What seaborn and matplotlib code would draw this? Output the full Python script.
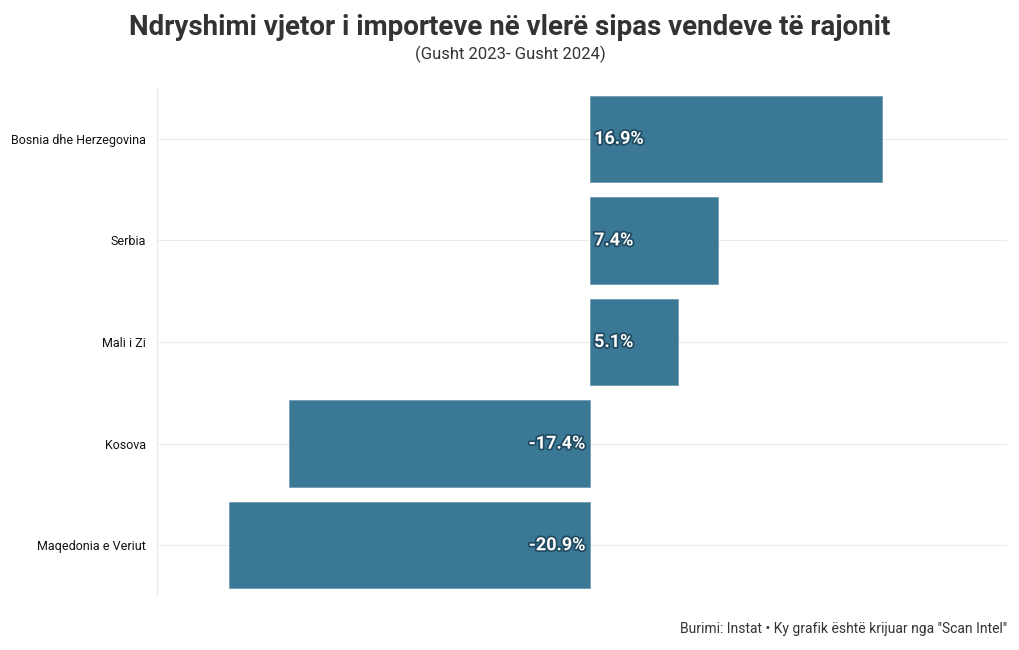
import matplotlib
matplotlib.use("Agg")
import matplotlib.pyplot as plt
import matplotlib.patheffects as pe
import seaborn as sns
import pandas as pd

# te dhenat
vendet = ["Bosnia dhe Herzegovina", "Serbia", "Mali i Zi", "Kosova", "Maqedonia e Veriut"]
ndryshimi = [16.9, 7.4, 5.1, -17.4, -20.9]

df = pd.DataFrame({"vendi": vendet, "ndryshimi": ndryshimi})

sns.set_style("white")
plt.rcParams["font.family"] = ["Roboto", "DejaVu Sans"]

fig = plt.figure(figsize=(10.2, 6.5), dpi=100)
ax = fig.add_axes([0.1539, 0.083, 0.8334, 0.7816])

sns.barplot(data=df, x="ndryshimi", y="vendi", orient="h", color="#3b7896",
            width=0.85, saturation=1, edgecolor="#6f9bb0", linewidth=0.6,
            ax=ax, zorder=2)

ax.set_xlim(-25.05, 24.15)
ax.set_ylim(4.5, -0.5)
ax.set_xticks([])
ax.set_xlabel("")
ax.set_ylabel("")
ax.tick_params(axis="y", length=0, labelsize=9, pad=8, labelcolor="#111111")
for s in ["top", "right", "bottom"]:
    ax.spines[s].set_visible(False)
ax.spines["left"].set_color("#ebebeb")
ax.spines["left"].set_linewidth(0.8)
for i in range(len(vendet)):
    ax.axhline(i, color="#ebebeb", lw=0.8, zorder=0)

efekt = [pe.withStroke(linewidth=2.5, foreground="#1f4a60")]
for i, v in enumerate(ndryshimi):
    if v >= 0:
        ax.text(0.25, i, f"{v}%", ha="left", va="center", color="white",
                fontsize=13, fontweight="bold", path_effects=efekt, zorder=3)
    else:
        ax.text(-0.25, i, f"{v}%", ha="right", va="center", color="white",
                fontsize=13, fontweight="bold", path_effects=efekt, zorder=3)

fig.text(0.5, 0.958, "Ndryshimi vjetor i importeve në vlerë sipas vendeve të rajonit",
         ha="center", va="center", fontsize=20, fontweight="bold", color="#333333")
fig.text(0.5, 0.916, "(Gusht 2023- Gusht 2024)", ha="center", va="center",
         fontsize=12, color="#333333")
fig.text(0.987, 0.032, 'Burimi: Instat • Ky grafik është krijuar nga "Scan Intel"',
         ha="right", va="center", fontsize=10, color="#333333")

fig.savefig("out.png", dpi=100)
